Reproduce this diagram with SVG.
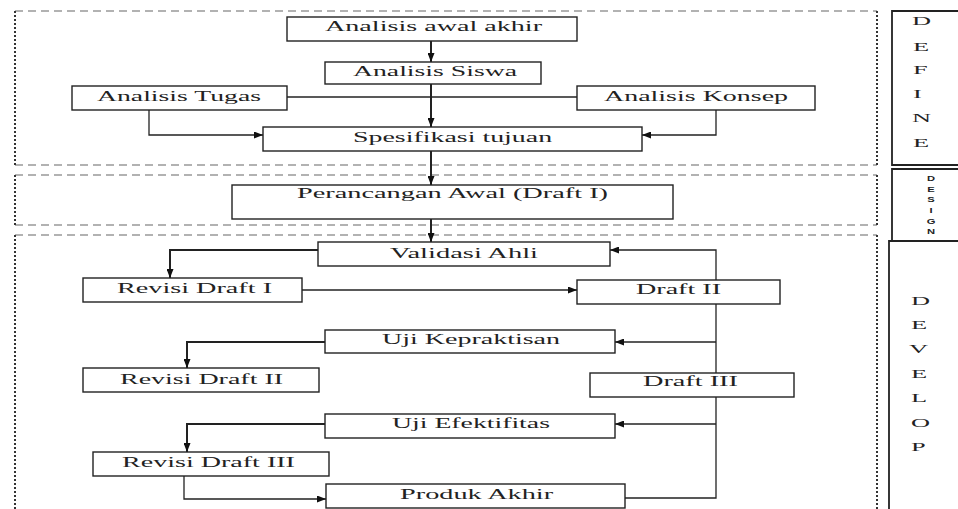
<svg xmlns="http://www.w3.org/2000/svg" width="958" height="509" viewBox="0 0 958 509">
<style>
.box{fill:#fff;stroke:#222;stroke-width:1.4}
.t{font-family:"Liberation Serif","Times New Roman",serif;font-size:14px;fill:#222}
.lt{font-family:"Liberation Serif","Times New Roman",serif;font-size:12px;fill:#222}
.st{font-family:"Liberation Sans",Arial,sans-serif;font-size:7px;font-weight:bold;fill:#222}
.dh{stroke:#666;stroke-width:1.2;stroke-dasharray:8 5;fill:none}
.dv{stroke:#333;stroke-width:2;stroke-dasharray:2 2;fill:none}
.lb{fill:none;stroke:#222;stroke-width:1.8}
.c{fill:none;stroke:#222;stroke-width:1.3}
.ca{fill:none;stroke:#222;stroke-width:1.3;marker-end:url(#ah)}
.cb{fill:none;stroke:#222;stroke-width:2;marker-end:url(#ah)}
</style>
<defs>
<marker id="ah" markerUnits="userSpaceOnUse" markerWidth="9" markerHeight="7" refX="9" refY="3.5" orient="auto">
<path d="M0,0 L9,3.5 L0,7 z" fill="#111"/>
</marker>
</defs>
<rect width="958" height="509" fill="#fff"/>

<g id="phases">
<g id="define-frame">
<line class="dh" x1="15" y1="11" x2="877" y2="11"/>
<line class="dh" x1="15" y1="165" x2="877" y2="165"/>
<line class="dv" x1="15" y1="11" x2="15" y2="165"/>
<line class="dv" x1="877" y1="11" x2="877" y2="165"/>
</g>
<g id="design-frame">
<line class="dh" x1="15" y1="175" x2="877" y2="175"/>
<line class="dh" x1="15" y1="225" x2="877" y2="225"/>
<line class="dv" x1="15" y1="175" x2="15" y2="225"/>
<line class="dv" x1="877" y1="175" x2="877" y2="225"/>
</g>
<g id="develop-frame">
<line class="dh" x1="15" y1="235" x2="877" y2="235"/>
<line class="dv" x1="15" y1="235" x2="15" y2="509"/>
<line class="dv" x1="877" y1="235" x2="877" y2="509"/>
</g>
</g>

<g id="label-define">
<path class="lb" d="M960,11 H892 V165 H960"/>
<text class="lt" transform="translate(912,25) scale(2.2,1)">D</text>
<text class="lt" transform="translate(913,50.5) scale(2.2,1)">E</text>
<text class="lt" transform="translate(913,74) scale(2.2,1)">F</text>
<text class="lt" transform="translate(913,97.5) scale(2.2,1)">I</text>
<text class="lt" transform="translate(912,121.5) scale(2.2,1)">N</text>
<text class="lt" transform="translate(913,146.5) scale(2.2,1)">E</text>
</g>
<g id="label-design">
<path class="lb" d="M960,169 H892 V241 H960"/>
<g text-anchor="middle">
<text class="st" transform="translate(931,181) scale(1.6,1)">D</text>
<text class="st" transform="translate(931,191.5) scale(1.6,1)">E</text>
<text class="st" transform="translate(931,202) scale(1.6,1)">S</text>
<text class="st" transform="translate(931,213) scale(1.6,1)">I</text>
<text class="st" transform="translate(931,223.5) scale(1.6,1)">G</text>
<text class="st" transform="translate(931,234) scale(1.6,1)">N</text>
</g>
</g>
<g id="label-develop">
<path class="lb" d="M960,241 H889 V512"/>
<text class="lt" transform="translate(911,305) scale(2.2,1)">D</text>
<text class="lt" transform="translate(911,329) scale(2.2,1)">E</text>
<text class="lt" transform="translate(909,353) scale(2.2,1)">V</text>
<text class="lt" transform="translate(911,378) scale(2.2,1)">E</text>
<text class="lt" transform="translate(911,402) scale(2.2,1)">L</text>
<text class="lt" transform="translate(911,427) scale(2.2,1)">O</text>
<text class="lt" transform="translate(911,451) scale(2.2,1)">P</text>
</g>

<g id="connectors">
<line class="cb" x1="431" y1="41" x2="431" y2="62"/>
<line class="cb" x1="431" y1="84" x2="431" y2="127"/>
<line class="c" x1="287" y1="97" x2="577" y2="97"/>
<polyline class="ca" points="149,110 149,135 263,135"/>
<polyline class="ca" points="716,110 716,135 642,135"/>
<line class="cb" x1="431" y1="151" x2="431" y2="185"/>
<line class="cb" x1="431" y1="219" x2="431" y2="242"/>
<polyline class="cb" points="318,250 170,250 170,278"/>
<line class="ca" x1="302" y1="290" x2="577" y2="290"/>
<polyline class="ca" points="716,280 716,250 610,250"/>
<line class="c" x1="716" y1="304" x2="716" y2="373"/>
<line class="ca" x1="716" y1="342" x2="615" y2="342"/>
<polyline class="c" points="716,397 716,498 625,498"/>
<line class="ca" x1="716" y1="424" x2="615" y2="424"/>
<polyline class="cb" points="325,342 187,342 187,368"/>
<polyline class="cb" points="325,424 187,424 187,452"/>
<polyline class="ca" points="184,476 184,499 326,499"/>
</g>

<g id="n-awal"><rect class="box" x="287" y="17" width="290" height="24"/><text class="t" transform="translate(325,31) scale(1.95,1)" textLength="111.3" lengthAdjust="spacingAndGlyphs">Analisis awal akhir</text></g>
<g id="n-siswa"><rect class="box" x="325" y="62" width="216" height="22"/><text class="t" transform="translate(353,76) scale(1.95,1)" textLength="84.1" lengthAdjust="spacingAndGlyphs">Analisis Siswa</text></g>
<g id="n-tugas"><rect class="box" x="72" y="86" width="215" height="24"/><text class="t" transform="translate(97,101) scale(1.95,1)" textLength="84.1" lengthAdjust="spacingAndGlyphs">Analisis Tugas</text></g>
<g id="n-konsep"><rect class="box" x="577" y="86" width="238" height="24"/><text class="t" transform="translate(604,101) scale(1.95,1)" textLength="94.4" lengthAdjust="spacingAndGlyphs">Analisis Konsep</text></g>
<g id="n-spesifikasi"><rect class="box" x="263" y="127" width="379" height="24"/><text class="t" transform="translate(353,142) scale(1.95,1)" textLength="102.1" lengthAdjust="spacingAndGlyphs">Spesifikasi tujuan</text></g>
<g id="n-perancangan"><rect class="box" x="232" y="185" width="441" height="34"/><text class="t" transform="translate(297,198) scale(1.95,1)" textLength="159.5" lengthAdjust="spacingAndGlyphs">Perancangan Awal (Draft I)</text></g>
<g id="n-validasi"><rect class="box" x="318" y="242" width="292" height="24"/><text class="t" transform="translate(390,258) scale(1.95,1)" textLength="75.9" lengthAdjust="spacingAndGlyphs">Validasi Ahli</text></g>
<g id="n-revisi1"><rect class="box" x="83" y="278" width="219" height="24"/><text class="t" transform="translate(117,293) scale(1.95,1)" textLength="79.5" lengthAdjust="spacingAndGlyphs">Revisi Draft I</text></g>
<g id="n-draft2"><rect class="box" x="577" y="280" width="203" height="24"/><text class="t" transform="translate(636,294) scale(1.95,1)" textLength="43.6" lengthAdjust="spacingAndGlyphs">Draft II</text></g>
<g id="n-ujikep"><rect class="box" x="325" y="330" width="290" height="23"/><text class="t" transform="translate(382,344) scale(1.95,1)" textLength="91.3" lengthAdjust="spacingAndGlyphs">Uji Kepraktisan</text></g>
<g id="n-revisi2"><rect class="box" x="83" y="368" width="236" height="24"/><text class="t" transform="translate(120,384) scale(1.95,1)" textLength="83.6" lengthAdjust="spacingAndGlyphs">Revisi Draft II</text></g>
<g id="n-draft3"><rect class="box" x="590" y="373" width="204" height="24"/><text class="t" transform="translate(643,386) scale(1.95,1)" textLength="48.7" lengthAdjust="spacingAndGlyphs">Draft III</text></g>
<g id="n-ujiefek"><rect class="box" x="325" y="414" width="290" height="24"/><text class="t" transform="translate(392,428) scale(1.95,1)" textLength="81.0" lengthAdjust="spacingAndGlyphs">Uji Efektifitas</text></g>
<g id="n-revisi3"><rect class="box" x="93" y="452" width="236" height="24"/><text class="t" transform="translate(122,467) scale(1.95,1)" textLength="88.7" lengthAdjust="spacingAndGlyphs">Revisi Draft III</text></g>
<g id="n-produk"><rect class="box" x="326" y="484" width="299" height="24"/><text class="t" transform="translate(400,499) scale(1.95,1)" textLength="78.5" lengthAdjust="spacingAndGlyphs">Produk Akhir</text></g>
</svg>
